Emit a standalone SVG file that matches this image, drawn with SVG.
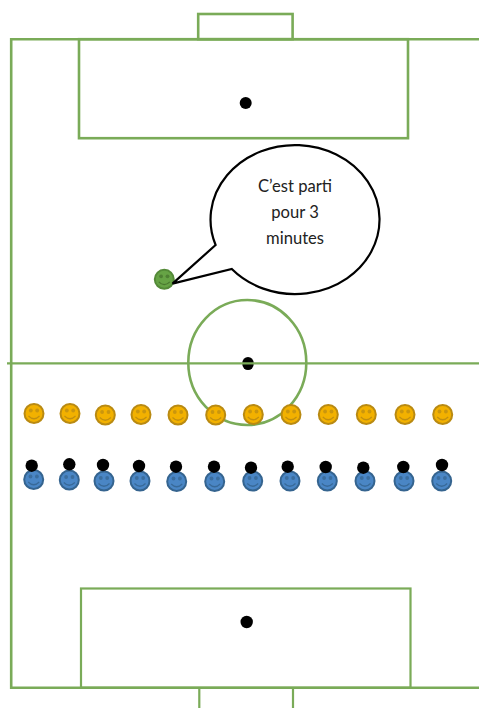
<svg xmlns="http://www.w3.org/2000/svg" width="479" height="708" viewBox="0 0 479 708">
<style>
.line{fill:none;stroke:#7aab58;stroke-width:2.6}
.thin{stroke-width:2.2}
.spot{fill:#000}
.eye{stroke:none;opacity:.7}
.mouth{fill:none;stroke-width:1.2;opacity:.85}
.y{fill:#f2b100;stroke:#b98a12;stroke-width:2}
.b{fill:#4a86c5;stroke:#35648f;stroke-width:2}
.g{fill:#66a345;stroke:#548a38;stroke-width:2}
.bubble{fill:#fff;stroke:#000;stroke-width:2.2;stroke-linejoin:miter}
text{font-family:"Lato","Open Sans","Liberation Sans",sans-serif;font-size:16.6px;fill:#222;text-anchor:middle}
</style>
<defs>
<g id="face-y"><circle r="9.5" class="y"/><circle cx="-3.2" cy="-3" r="1.9" fill="#b98a12" class="eye"/><circle cx="3.2" cy="-3" r="1.9" fill="#b98a12" class="eye"/><path d="M-5.5 2.5Q0 8 5.5 2.5" stroke="#b98a12" class="mouth"/></g>
<g id="face-b"><circle r="9.5" class="b"/><circle cx="-3.2" cy="-3" r="1.9" fill="#35648f" class="eye"/><circle cx="3.2" cy="-3" r="1.9" fill="#35648f" class="eye"/><path d="M-5.5 2.5Q0 8 5.5 2.5" stroke="#35648f" class="mouth"/></g>
<g id="face-g"><circle r="9.5" class="g"/><circle cx="-3.2" cy="-3" r="1.9" fill="#44702c" class="eye"/><circle cx="3.2" cy="-3" r="1.9" fill="#44702c" class="eye"/><path d="M-5.5 2.5Q0 8 5.5 2.5" stroke="#44702c" class="mouth"/></g>
</defs>

<g id="pitch">
<path class="line" d="M479 39.2H11.2V687.7H479"/>
<rect class="line" x="79" y="39.2" width="329" height="99"/>
<rect class="line" x="198.2" y="14" width="94.4" height="25.2"/>
<rect class="line thin" x="81" y="588.5" width="329.5" height="99.2"/>
<path class="line thin" d="M199.3 687.7V708M293 687.7V708"/>
<ellipse class="line" cx="247.3" cy="362.5" rx="59" ry="62.5"/>
<circle class="spot" cx="245.7" cy="103" r="6"/>
<circle class="spot" cx="246.7" cy="622" r="6.2"/>
<ellipse class="spot" cx="248" cy="363.5" rx="5.8" ry="6.6"/>
<path class="line thin" d="M7 363.3H479"/>
</g>

<g id="coach"><use href="#face-g" x="164.3" y="279.3"/></g>

<g id="bubble">
<path class="bubble" d="M215.6 245 L172.5 283.6 L231.8 269 A84.5 74.5 0 1 0 215.6 245Z"/>
<text x="295" y="191.5">C’est parti</text>
<text x="295" y="218">pour 3</text>
<text x="295" y="243.5">minutes</text>
</g>

<g id="yellow-team">
<use href="#face-y" x="34" y="413.5"/>
<use href="#face-y" x="70" y="413.5"/>
<use href="#face-y" x="105.3" y="415"/>
<use href="#face-y" x="141" y="414.5"/>
<use href="#face-y" x="178" y="415"/>
<use href="#face-y" x="215.7" y="415"/>
<use href="#face-y" x="253.3" y="414.5"/>
<use href="#face-y" x="291" y="414.5"/>
<use href="#face-y" x="328.3" y="414.5"/>
<use href="#face-y" x="366.3" y="414.5"/>
<use href="#face-y" x="405" y="414.5"/>
<use href="#face-y" x="442.7" y="414.5"/>
</g>

<g id="blue-team">
<use href="#face-b" x="33.7" y="479.5"/>
<use href="#face-b" x="69.3" y="480"/>
<use href="#face-b" x="104" y="481"/>
<use href="#face-b" x="140" y="481"/>
<use href="#face-b" x="176.7" y="481.5"/>
<use href="#face-b" x="214.7" y="481.5"/>
<use href="#face-b" x="252.7" y="481"/>
<use href="#face-b" x="290" y="481"/>
<use href="#face-b" x="327.3" y="481"/>
<use href="#face-b" x="365" y="481"/>
<use href="#face-b" x="404" y="481"/>
<use href="#face-b" x="441.7" y="481"/>
</g>

<g id="balls" class="spot">
<circle cx="31.7" cy="465.7" r="6.2"/>
<circle cx="69.3" cy="464.3" r="6.2"/>
<circle cx="103" cy="465" r="6.2"/>
<circle cx="139" cy="466" r="6.2"/>
<circle cx="176" cy="466.7" r="6.2"/>
<circle cx="214" cy="466.7" r="6.2"/>
<circle cx="251" cy="467.7" r="6.2"/>
<circle cx="287.7" cy="466.7" r="6.2"/>
<circle cx="325.7" cy="467" r="6.2"/>
<circle cx="363.3" cy="467.7" r="6.2"/>
<circle cx="403.3" cy="467" r="6.2"/>
<circle cx="442" cy="465" r="6.2"/>
</g>
</svg>
